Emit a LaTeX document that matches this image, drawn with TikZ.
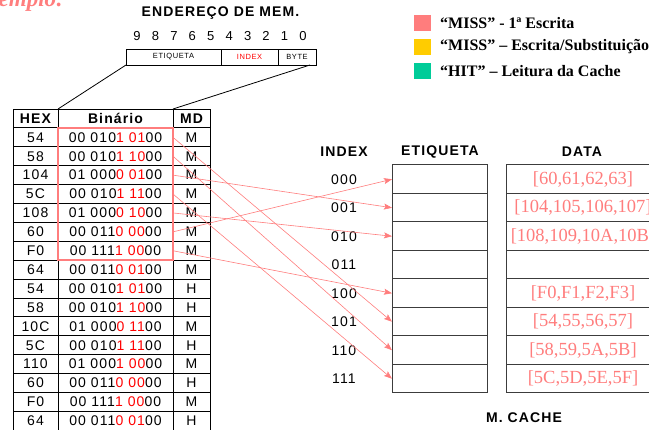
\documentclass[tikz,border=0pt]{standalone}
\usepackage{fontspec}
\setmainfont{Liberation Serif}
\newfontfamily\tabfont[LetterSpace=8]{Liberation Sans}
\newfontfamily\boxfont[LetterSpace=8]{Liberation Sans}
\usetikzlibrary{arrows.meta}
\definecolor{missred}{RGB}{255,125,125}
\definecolor{missyellow}{RGB}{255,204,0}
\definecolor{hitgreen}{RGB}{0,204,153}
\definecolor{cachegray}{RGB}{60,60,60}
% address bits: high part in black, index bits in red, byte bits 00
\newcommand{\addr}[2]{#1\textcolor{red}{#2}00}

\begin{document}
\begin{tikzpicture}[x=1pt,y=-1pt,
  cell/.style={draw,inner sep=0pt,outer sep=0pt,minimum height=18.9pt,line width=0.8pt,
    font=\tabfont\fontsize{14}{16}\selectfont},
  head/.style={font=\tabfont\bfseries\fontsize{14}{16}\selectfont},
  slot/.style={draw=cachegray,line width=1pt,inner sep=0pt,outer sep=0pt,minimum height=28.5pt},
  field/.style={draw,line width=0.8pt,inner sep=0pt,outer sep=0pt,minimum height=16pt,
    font=\boxfont\fontsize{7.5}{9}\selectfont},
  miss/.style={draw=missred,line width=0.6pt,-{Stealth[length=8pt,width=6pt,inset=1.5pt]}},
  key/.style={inner sep=0pt,minimum width=17pt,minimum height=16pt},
  keytext/.style={anchor=west,inner sep=0pt,font=\bfseries\fontsize{16}{18}\selectfont}]
\useasboundingbox (0,0) rectangle (649,430);
\clip (0,0) rectangle (649,430);
% TITLE OF THE SLIDE
\node[anchor=base east,inner sep=0pt,text=missred,font=\bfseries\itshape\fontsize{23}{25}\selectfont] (ex) at (64,7) {Exemplo:};
% MEMORY ADDRESS
\node[head] (title) at (220.5,13) {ENDEREÇO DE MEM.};
\foreach \b [count=\n from 0] in {9,...,0}
  \node[font=\tabfont\fontsize{13}{15}\selectfont] (bit-\b) at (137+18.44*\n,36) {\b};
\node[field,minimum width=95pt] (etq) at (173.5,57) {ETIQUETA};
\node[field,minimum width=57pt,text=red] (idx) at (249.5,57) {INDEX};
\node[field,minimum width=38pt] (byte) at (297,57) {BYTE};
% ADDRESS TABLE
\node[cell,minimum width=45pt,head] (hex-0) at (35.5,118.45) {HEX};
\node[cell,minimum width=115pt,head] (bin-0) at (115.5,118.45) {Binário};
\node[cell,minimum width=37pt,head] (md-0) at (191.5,118.45) {MD};
\foreach \h/\p/\q/\m [count=\i] in {54/00 010/1 01/M, 58/00 010/1 10/M, 104/01 000/0 01/M,
    5C/00 010/1 11/M, 108/01 000/0 10/M, 60/00 011/0 00/M, F0/00 111/1 00/M,
    64/00 011/0 01/M, 54/00 010/1 01/H, 58/00 010/1 10/H, 10C/01 000/0 11/M,
    5C/00 010/1 11/H, 110/01 000/1 00/M, 60/00 011/0 00/H, F0/00 111/1 00/M,
    64/00 011/0 01/H} {
  \pgfmathsetmacro\yy{118.45+18.9*\i}
  \node[cell,minimum width=45pt] (hex-\i) at (35.5,\yy) {\h};
  \node[cell,minimum width=115pt] (bin-\i) at (115.5,\yy) {\addr{\p}{\q}};
  \node[cell,minimum width=37pt] (md-\i) at (191.5,\yy) {\m};
}
\draw[line width=0.8pt] (etq.south west) -- (hex-0.north east);
\draw[line width=0.8pt] ([xshift=-6pt]byte.south east) -- (bin-0.north east);
% FIRST WRITES
\draw[missred,line width=2pt] (bin-1.north west) rectangle (bin-7.south east);
% CACHE
\node[head] (h-index) at (344,152) {INDEX};
\node[head] (h-tag) at (440,152) {ETIQUETA};
\node[head] (h-data) at (582,152) {DATA};
\foreach \lab/\dat [count=\j from 0] in {000/{[60,61,62,63]}, 001/{[104,105,106,107]},
    010/{[108,109,10A,10B]}, 011/{}, 100/{[F0,F1,F2,F3]}, 101/{[54,55,56,57]},
    110/{[58,59,5A,5B]}, 111/{[5C,5D,5E,5F]}} {
  \pgfmathsetmacro\yy{179.25+28.5*\j}
  \node[font=\tabfont\fontsize{14}{16}\selectfont] (lab-\j) at (344,\yy) {\lab};
  \node[slot,minimum width=95pt] (tag-\j) at (439.5,\yy) {};
  \node[slot,minimum width=154pt,text=missred,font=\fontsize{18.5}{20}\selectfont] (dat-\j) at (583,\yy) {\dat};
}
\node[head] (mcache) at (524,418) {M. CACHE};
% MISS ARROWS
\draw[miss] (bin-1.east) -- (tag-5.west);
\draw[miss] (bin-2.east) -- (tag-6.west);
\draw[miss] (bin-3.east) -- (tag-1.west);
\draw[miss] (bin-4.east) -- (tag-7.west);
\draw[miss] (bin-5.east) -- (tag-2.west);
\draw[miss] (bin-6.east) -- (tag-0.west);
\draw[miss] (bin-7.east) -- (tag-4.west);
% LEGEND
\node[key,fill=missred] (key-1) at (422.5,23) {};
\node[keytext] (txt-1) at (440,23) {“MISS” - 1ª Escrita};
\node[key,fill=missyellow] (key-2) at (422.5,47) {};
\node[keytext] (txt-2) at (440,47) {“MISS” – Escrita/Substituição};
\node[key,fill=hitgreen] (key-3) at (422.5,71) {};
\node[keytext] (txt-3) at (440,71) {“HIT” – Leitura da Cache};
\end{tikzpicture}
\end{document}
